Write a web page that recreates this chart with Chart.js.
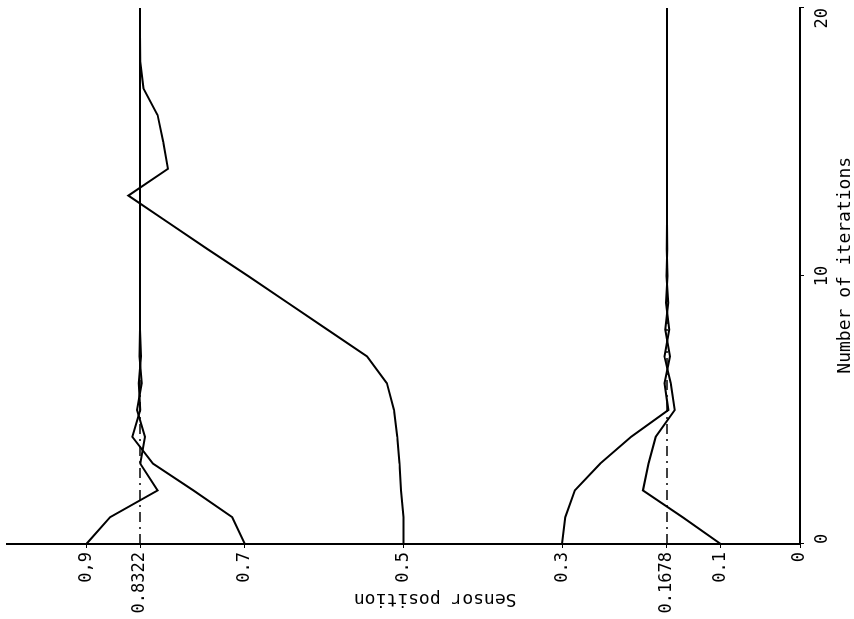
<!DOCTYPE html>
<html>
<head>
<meta charset="utf-8">
<script src="https://cdn.jsdelivr.net/npm/chart.js@4.4.1/dist/chart.umd.min.js"></script>
<style>
    html, body { margin: 0; padding: 0; background: #fff; width: 854px; height: 619px; overflow: hidden; }
    /* the chart is drawn upright, then turned a quarter turn left like the scanned page */
    #wrap {
        position: absolute; left: 0; top: 0; width: 619px; height: 854px;
        transform-origin: 0 0;
        transform: translateY(619px) rotate(-90deg);
    }
</style>
</head>
<body>
<div id="wrap"><canvas id="chart" width="619" height="854"></canvas></div>
<script>
// --- Data ---
const iterations = [0, 1, 2, 3, 4, 5, 6, 7, 8, 9, 10, 11, 12, 13, 14, 15, 16, 17, 18, 19, 20];

const sensorFrom09 = [0.9, 0.870, 0.810, 0.832, 0.826, 0.836, 0.830, 0.833, 0.8322, 0.8322, 0.8322, 0.8322, 0.8322, 0.8322, 0.8322, 0.8322, 0.8322, 0.8322, 0.8322, 0.8322, 0.8322];
const sensorFrom07 = [0.7, 0.716, 0.765, 0.816, 0.842, 0.832, 0.834, 0.831, 0.8322, 0.8322, 0.8322, 0.8322, 0.8322, 0.8322, 0.8322, 0.8322, 0.8322, 0.8322, 0.8322, 0.8322, 0.8322];
const sensorFrom05 = [0.5, 0.5, 0.503, 0.505, 0.508, 0.512, 0.521, 0.546, 0.596, 0.646, 0.696, 0.747, 0.797, 0.847, 0.797, 0.803, 0.810, 0.828, 0.832, 0.8322, 0.8322];
const sensorFrom03 = [0.3, 0.296, 0.284, 0.252, 0.213, 0.166, 0.171, 0.164, 0.170, 0.166, 0.1685, 0.1675, 0.1678, 0.1678, 0.1678, 0.1678, 0.1678, 0.1678, 0.1678, 0.1678, 0.1678];
const sensorFrom01 = [0.1, 0.148, 0.198, 0.191, 0.182, 0.158, 0.163, 0.171, 0.165, 0.169, 0.167, 0.168, 0.1678, 0.1678, 0.1678, 0.1678, 0.1678, 0.1678, 0.1678, 0.1678, 0.1678];

const optimumLevels = [0.8322, 0.1678];

const xTickValues = [0, 10, 20];
const yTickValues = [0, 0.1, 0.1678, 0.3, 0.5, 0.7, 0.8322, 0.9];
const yTickLabels = ['0', '0.1', '0.1678', '0.3', '0.5', '0.7', '0.8322', '0,9'];

const xTitle = 'Number of iterations';
const yTitle = 'Sensor position';

// --- Build datasets ---
const toPoints = (values) => values.map((v, i) => ({ x: iterations[i], y: v }));

const sensorSeries = [sensorFrom09, sensorFrom07, sensorFrom05, sensorFrom03, sensorFrom01];

const datasets = sensorSeries.map(values => ({
    data: toPoints(values),
    borderColor: '#000',
    borderWidth: 2,
    pointRadius: 0,
    tension: 0,
}));

optimumLevels.forEach(level => {
    datasets.push({
        data: [{ x: iterations[0], y: level }, { x: iterations[iterations.length - 1], y: level }],
        borderColor: '#000',
        borderWidth: 1.5,
        borderDash: [10, 5, 2, 5],
        pointRadius: 0,
    });
});

const monoFont = '"DejaVu Sans Mono", "Liberation Mono", monospace';

// axis titles placed where the scan has them (not centred on the axes)
const axisTitles = {
    id: 'axisTitles',
    afterDraw(chart) {
        const { ctx, scales: { x, y } } = chart;
        ctx.save();
        ctx.font = '18px ' + monoFont;
        ctx.fillStyle = '#000';
        ctx.textAlign = 'center';
        ctx.textBaseline = 'middle';
        ctx.fillText(xTitle, x.getPixelForValue(10.4), 845);
        ctx.translate(20, y.getPixelForValue(0.46));
        ctx.rotate(-Math.PI / 2);
        ctx.fillText(yTitle, 0, 0);
        ctx.restore();
    }
};

new Chart(document.getElementById('chart'), {
    type: 'line',
    data: { datasets },
    plugins: [axisTitles],
    options: {
        responsive: false,
        animation: false,
        layout: { padding: { top: 7, right: 8, left: 0, bottom: 0 } },
        plugins: {
            legend: { display: false },
            tooltip: { enabled: false },
        },
        scales: {
            x: {
                type: 'linear',
                position: 'bottom',
                min: 0,
                max: 20,
                afterBuildTicks: (scale) => { scale.ticks = xTickValues.map(v => ({ value: v })); },
                afterFit: (scale) => {
                    scale.height = 54;
                    scale.paddingLeft = 0;
                    scale.paddingRight = 0;
                },
                ticks: {
                    color: '#000',
                    font: { family: monoFont, size: 17 },
                    padding: 8,
                    maxRotation: 0,
                    autoSkip: false,
                    align: 'inner',
                },
                grid: { display: true, drawOnChartArea: false, drawTicks: true, tickLength: 4, color: '#000' },
                border: { display: true, color: '#000', width: 2 },
            },
            y: {
                type: 'linear',
                position: 'left',
                min: 0,
                max: 1,
                afterBuildTicks: (scale) => { scale.ticks = yTickValues.map(v => ({ value: v })); },
                afterFit: (scale) => {
                    scale.width = 75;
                    scale.paddingTop = 0;
                    scale.paddingBottom = 0;
                },
                ticks: {
                    color: '#000',
                    font: { family: monoFont, size: 17 },
                    padding: 4,
                    autoSkip: false,
                    callback: (value, index) => yTickLabels[index],
                },
                grid: { display: true, drawOnChartArea: false, drawTicks: true, tickLength: 4, color: '#000' },
                border: { display: true, color: '#000', width: 2 },
            },
        },
    },
});
</script>
</body>
</html>
